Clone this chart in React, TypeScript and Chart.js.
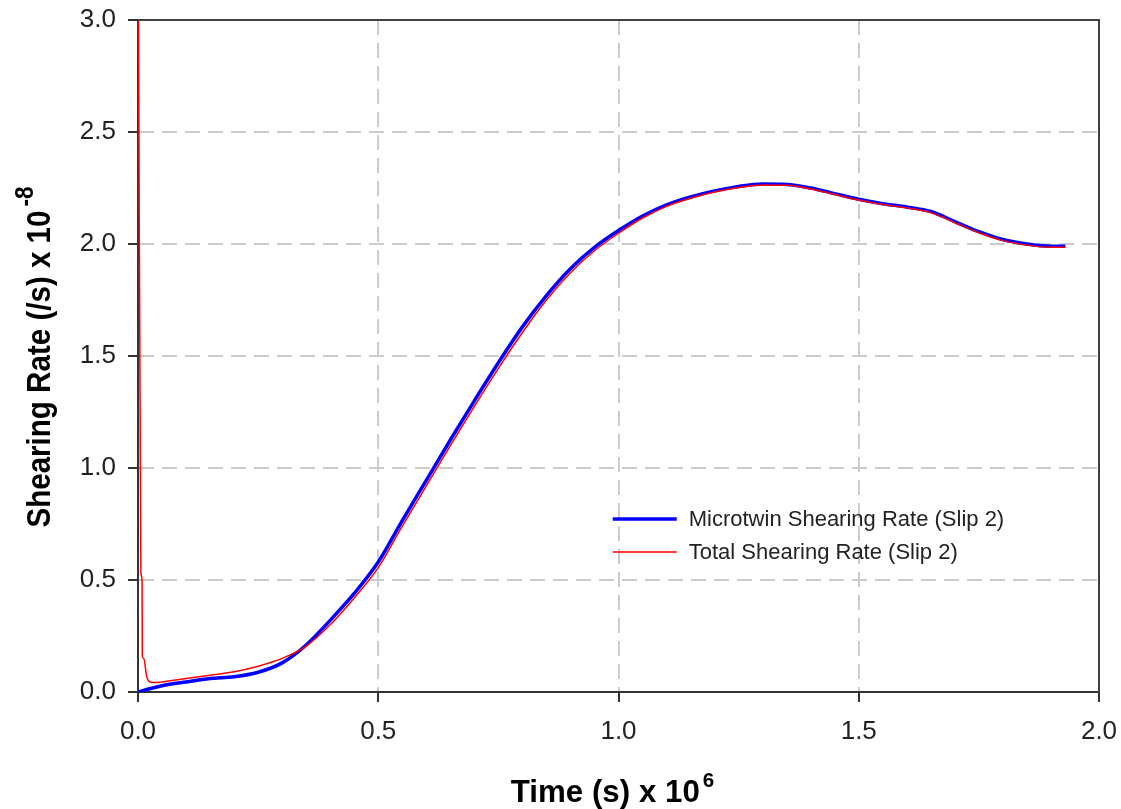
import React, { useEffect, useRef } from "react";
import { Chart, registerables } from "chart.js";

Chart.register(...registerables);

// ---- Data ----
const microTime = [0, 0.02, 0.05, 0.1, 0.15, 0.2, 0.25, 0.3, 0.35, 0.4, 0.45, 0.5, 0.55, 0.6, 0.65, 0.7, 0.75, 0.8, 0.85, 0.9, 0.95, 1.0, 1.05, 1.1, 1.15, 1.2, 1.25, 1.3, 1.35, 1.4, 1.45, 1.5, 1.55, 1.6, 1.65, 1.7, 1.75, 1.8, 1.85, 1.9, 1.93];
const microRate = [0, 0.012, 0.028, 0.045, 0.06, 0.068, 0.088, 0.13, 0.21, 0.32, 0.44, 0.58, 0.765, 0.945, 1.125, 1.3, 1.47, 1.63, 1.77, 1.89, 1.985, 2.06, 2.125, 2.175, 2.21, 2.237, 2.257, 2.268, 2.266, 2.25, 2.225, 2.2, 2.18, 2.165, 2.145, 2.1, 2.055, 2.02, 2.0, 1.99, 1.99];

const totalTime = [0.0008, 0.006, 0.0085, 0.009, 0.012, 0.018, 0.025, 0.04, 0.06, 0.1, 0.15, 0.2, 0.25, 0.3, 0.35, 0.4, 0.45, 0.5, 0.55, 0.6, 0.65, 0.7, 0.75, 0.8, 0.85, 0.9, 0.95, 1.0, 1.05, 1.1, 1.15, 1.2, 1.25, 1.3, 1.35, 1.4, 1.45, 1.5, 1.55, 1.6, 1.65, 1.7, 1.75, 1.8, 1.85, 1.9, 1.93];
const totalRate = [3.2, 0.53, 0.5, 0.16, 0.15, 0.07, 0.045, 0.042, 0.048, 0.06, 0.075, 0.09, 0.115, 0.15, 0.205, 0.3, 0.42, 0.555, 0.74, 0.92, 1.1, 1.275, 1.445, 1.605, 1.75, 1.872, 1.97, 2.048, 2.116, 2.168, 2.204, 2.232, 2.252, 2.263, 2.262, 2.246, 2.221, 2.196, 2.176, 2.161, 2.14, 2.095, 2.05, 2.015, 1.995, 1.985, 1.985];

const seriesLabels = ["Microtwin Shearing Rate (Slip 2)", "Total Shearing Rate (Slip 2)"];
const seriesColors = ["#0000ff", "#ff0000"];

const xRange = [0, 2];
const xStep = 0.5;
const yRange = [0, 3];
const yStep = 0.5;

const xTitle = "Time (s) x 10";
const xTitleSup = "6";
const yTitle = "Shearing Rate (/s) x 10";
const yTitleSup = "-8";

const FONT = "'Liberation Sans', Arial, sans-serif";

function drawTitle(ctx: CanvasRenderingContext2D, main: string, sup: string, size: number, supSize: number, targetLen: number, rise: number, gap: number) {
  ctx.font = `bold ${size}px ${FONT}`;
  const mw = ctx.measureText(main).width;
  ctx.font = `bold ${supSize}px ${FONT}`;
  const sw = ctx.measureText(sup).width;
  const s = targetLen / mw;
  const total = targetLen + gap + sw * s;
  ctx.save();
  ctx.scale(s, 1);
  ctx.textBaseline = "alphabetic";
  ctx.textAlign = "left";
  ctx.fillStyle = "#000";
  const start = -total / 2 / s;
  ctx.font = `bold ${size}px ${FONT}`;
  ctx.fillText(main, start, 0);
  ctx.font = `bold ${supSize}px ${FONT}`;
  ctx.fillText(sup, start + mw + gap / s, -rise);
  ctx.restore();
}

const decorPlugin = {
  id: "decor",
  afterDraw(chart: any) {
    const { ctx, chartArea: a } = chart;
    ctx.save();
    // frame top & right
    ctx.strokeStyle = "#404040";
    ctx.lineWidth = 2;
    ctx.beginPath();
    ctx.moveTo(a.left, a.top);
    ctx.lineTo(a.right, a.top);
    ctx.lineTo(a.right, a.bottom);
    ctx.stroke();

    // legend
    const lx = a.left + (a.right - a.left) * 0.494;
    let ly = a.top + (a.bottom - a.top) * 0.7426;
    ctx.font = `22px ${FONT}`;
    ctx.textBaseline = "middle";
    ctx.textAlign = "left";
    chart.data.datasets.forEach((ds: any) => {
      ctx.strokeStyle = ds.borderColor;
      ctx.lineWidth = ds.borderWidth;
      ctx.beginPath();
      ctx.moveTo(lx, ly);
      ctx.lineTo(lx + 64, ly);
      ctx.stroke();
      ctx.fillStyle = "#222";
      ctx.fillText(ds.label, lx + 76, ly + 1);
      ly += 33;
    });

    // x title
    ctx.save();
    ctx.translate((a.left + a.right) / 2 - 6, a.bottom + 110);
    drawTitle(ctx, xTitle, xTitleSup, 32, 21, 189, 15, 3);
    ctx.restore();

    // y title
    ctx.save();
    ctx.translate(50, (a.top + a.bottom) / 2 + 1);
    ctx.rotate(-Math.PI / 2);
    drawTitle(ctx, yTitle, yTitleSup, 34, 26, 317, 17, 4);
    ctx.restore();

    ctx.restore();
  },
};

export default function App() {
  const ref = useRef<HTMLCanvasElement | null>(null);
  useEffect(() => {
    document.body.style.margin = "0";
    const canvas = ref.current;
    if (!canvas) return;
    const chart = new Chart(canvas, {
      type: "line",
      data: {
        datasets: [
          {
            label: seriesLabels[0],
            data: microTime.map((t, i) => ({ x: t, y: microRate[i] })),
            borderColor: seriesColors[0],
            backgroundColor: seriesColors[0],
            borderWidth: 3.5,
            pointRadius: 0,
            cubicInterpolationMode: "monotone",
            order: 1,
          },
          {
            label: seriesLabels[1],
            data: totalTime.map((t, i) => ({ x: t, y: totalRate[i] })),
            borderColor: seriesColors[1],
            backgroundColor: seriesColors[1],
            borderWidth: 1.5,
            pointRadius: 0,
            cubicInterpolationMode: "monotone",
            order: 0,
          },
        ],
      },
      options: {
        responsive: false,
        animation: false,
        events: [],
        layout: { padding: { top: 20, right: 22, left: 0, bottom: 0 } },
        plugins: { legend: { display: false }, tooltip: { enabled: false }, title: { display: false } },
        scales: {
          x: {
            type: "linear",
            min: xRange[0],
            max: xRange[1],
            afterFit: (s: any) => { s.height = 117; s.paddingLeft = 0; s.paddingRight = 0; },
            ticks: {
              stepSize: xStep,
              padding: 14,
              color: "#222",
              font: { family: FONT, size: 26 },
              callback: (v: any) => Number(v).toFixed(1),
              maxRotation: 0,
            },
            grid: {
              color: "#cccccc",
              lineWidth: 2,
              tickLength: 10,
              tickColor: "#333",
              tickWidth: 2,
              tickBorderDash: [],
            } as any,
            border: { display: true, color: "#333", width: 2, dash: [15, 8] },
          },
          y: {
            type: "linear",
            min: yRange[0],
            max: yRange[1],
            afterFit: (s: any) => { s.width = 138; s.paddingTop = 0; s.paddingBottom = 0; },
            ticks: {
              stepSize: yStep,
              padding: 12,
              color: "#222",
              font: { family: FONT, size: 26 },
              callback: (v: any) => Number(v).toFixed(1),
            },
            grid: {
              color: "#cccccc",
              lineWidth: 2,
              tickLength: 10,
              tickColor: "#333",
              tickWidth: 2,
              tickBorderDash: [],
            } as any,
            border: { display: true, color: "#333", width: 2, dash: [15, 8] },
          },
        },
      },
      plugins: [decorPlugin],
    });
    return () => chart.destroy();
  }, []);
  return <canvas ref={ref} width={1121} height={809} style={{ display: "block", width: 1121, height: 809 }} />;
}
